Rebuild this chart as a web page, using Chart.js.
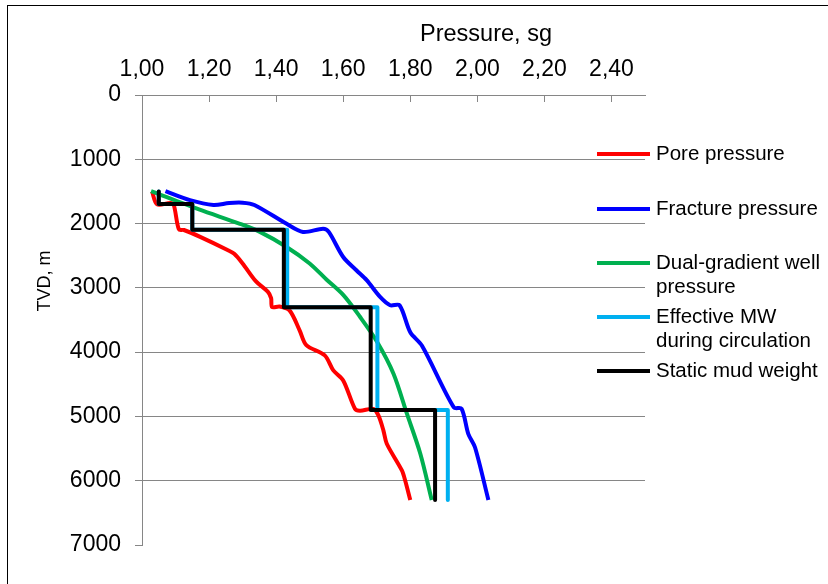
<!DOCTYPE html>
<html>
<head>
<meta charset="utf-8">
<title>Pressure vs TVD</title>
<script src="https://cdn.jsdelivr.net/npm/chart.js@4.4.1/dist/chart.umd.min.js"></script>
<style>
  html, body { margin: 0; padding: 0; background: #fff; overflow: hidden; }
  #wrap { position: relative; width: 828px; height: 584px; }
  #frame { position: absolute; left: 7px; top: 5px; width: 900px; height: 700px; border: 1px solid #000; box-sizing: border-box; }
  canvas { position: absolute; left: 0; top: 0; }
</style>
</head>
<body>
<div id="wrap">
  <div id="frame"></div>
  <canvas id="chart" width="828" height="584"></canvas>
</div>
<script>
// pressure (sg) / depth (m) pairs
const porePressure = [1.03, 1.045, 1.085, 1.095, 1.11, 1.125, 1.175, 1.255, 1.275, 1.30, 1.34, 1.375, 1.385, 1.388, 1.41, 1.44, 1.47, 1.49, 1.545, 1.57, 1.60, 1.635, 1.65, 1.69, 1.705, 1.72, 1.73, 1.775, 1.785, 1.80];
const poreDepth    = [1500, 1700, 1680, 1715, 2090, 2100, 2210, 2410, 2470, 2620, 2900, 3060, 3160, 3300, 3290, 3350, 3660, 3890, 4050, 4280, 4440, 4880, 4910, 4885, 4985, 5220, 5425, 5840, 6000, 6300];

const fracPressure = [1.07, 1.143, 1.213, 1.26, 1.30, 1.335, 1.43, 1.48, 1.54, 1.557, 1.60, 1.64, 1.67, 1.71, 1.74, 1.768, 1.80, 1.835, 1.93, 1.953, 1.973, 1.993, 2.033];
const fracDepth    = [1495, 1636, 1710, 1680, 1675, 1710, 2000, 2130, 2080, 2130, 2520, 2730, 2880, 3140, 3270, 3270, 3690, 3900, 4860, 4880, 5270, 5480, 6300];

const dualPressure = [1.027, 1.17, 1.29, 1.35, 1.43, 1.50, 1.55, 1.60, 1.65, 1.70, 1.75, 1.79, 1.83, 1.864];
const dualDepth    = [1495, 1780, 2000, 2125, 2360, 2620, 2870, 3110, 3450, 3830, 4335, 4958, 5581, 6300];

const stepDepth    = [1500, 1695, 1695, 2095, 2095, 3300, 3300, 4900, 4900, 6300];
const effPressure  = [1.05, 1.05, 1.15, 1.15, 1.433, 1.433, 1.702, 1.702, 1.912, 1.912];
const staticPressure = [1.05, 1.05, 1.15, 1.15, 1.423, 1.423, 1.682, 1.682, 1.874, 1.874];

const seriesLabels = [['Pore pressure'], ['Fracture pressure'], ['Dual-gradient well', 'pressure'], ['Effective MW', 'during circulation'], ['Static mud weight']];
const seriesColors = ['#ff0000', '#0000ff', '#00b050', '#00b0f0', '#000000'];

const xTicks = [1.0, 1.2, 1.4, 1.6, 1.8, 2.0, 2.2, 2.4];
const yTicks = [0, 1000, 2000, 3000, 4000, 5000, 6000, 7000];
const xMin = 1.0, xMax = 2.5;
const yMin = 0, yMax = 7000;

const FONT = '"Liberation Sans", Arial, sans-serif';
const AXIS = '#868686';

function pairs(px, dy) {
    return px.map((v, i) => ({ x: v, y: dy[i] }));
}

function line(idx, px, dy, tension) {
    return {
        label: seriesLabels[idx].join(' '),
        data: pairs(px, dy),
        showLine: true,
        borderColor: seriesColors[idx],
        backgroundColor: seriesColors[idx],
        borderWidth: 4,
        pointRadius: 0,
        tension: tension,
        borderJoinStyle: 'round',
        borderCapStyle: 'butt',
        order: 5 - idx
    };
}

// titles, inner ticks on the top axis, legend
const decor = {
    id: 'decor',
    afterDraw(chart) {
        const ctx = chart.ctx;
        const xs = chart.scales.x;
        const area = chart.chartArea;
        ctx.save();

        ctx.strokeStyle = AXIS;
        ctx.lineWidth = 1;
        xs.ticks.forEach(t => {
            if (t.value <= xMin + 1e-6) return;
            const px = Math.round(xs.getPixelForValue(t.value)) + 0.5;
            ctx.beginPath();
            ctx.moveTo(px, area.top);
            ctx.lineTo(px, area.top + 7);
            ctx.stroke();
        });

        ctx.fillStyle = '#000';
        ctx.font = '23.5px ' + FONT;
        ctx.textAlign = 'center';
        ctx.textBaseline = 'alphabetic';
        ctx.fillText('Pressure, sg', 486, 41);

        ctx.save();
        ctx.translate(45, 281);
        ctx.rotate(-Math.PI / 2);
        ctx.textBaseline = 'middle';
        ctx.font = '18px ' + FONT;
        ctx.fillText('TVD, m', 0, 0);
        ctx.restore();

        // legend
        const itemY = [154, 209, 263, 317, 371];
        ctx.font = '20.5px ' + FONT;
        ctx.textAlign = 'left';
        ctx.textBaseline = 'middle';
        seriesLabels.forEach((lines, i) => {
            ctx.strokeStyle = seriesColors[i];
            ctx.lineWidth = 4;
            ctx.beginPath();
            ctx.moveTo(597, itemY[i]);
            ctx.lineTo(650, itemY[i]);
            ctx.stroke();
            lines.forEach((txt, k) => ctx.fillText(txt, 656, itemY[i] + k * 24));
        });
        ctx.restore();
    }
};

new Chart(document.getElementById('chart').getContext('2d'), {
    type: 'scatter',
    data: {
        datasets: [
            line(0, porePressure, poreDepth, 0.3),
            line(1, fracPressure, fracDepth, 0.3),
            line(2, dualPressure, dualDepth, 0.3),
            line(3, effPressure, stepDepth, 0),
            line(4, staticPressure, stepDepth, 0)
        ]
    },
    options: {
        responsive: false,
        animation: false,
        layout: { padding: { left: 0, top: 0, right: 183, bottom: 39 } },
        plugins: { legend: { display: false }, tooltip: { enabled: false } },
        scales: {
            x: {
                type: 'linear',
                position: 'top',
                min: xMin,
                max: xMax,
                afterBuildTicks: s => { s.ticks = xTicks.map(v => ({ value: v })); },
                afterFit: s => { s.height = 95; },
                ticks: {
                    color: '#000',
                    padding: 12,
                    maxRotation: 0,
                    autoSkip: false,
                    font: { family: FONT, size: 23 },
                    callback: v => v.toFixed(2).replace('.', ',')
                },
                grid: { display: true, drawOnChartArea: false, drawTicks: false },
                border: { color: AXIS, width: 1 }
            },
            y: {
                type: 'linear',
                reverse: true,
                min: yMin,
                max: yMax,
                afterBuildTicks: s => { s.ticks = yTicks.map(v => ({ value: v })); },
                afterFit: s => { s.width = 142; },
                ticks: {
                    color: '#000',
                    padding: 14,
                    autoSkip: false,
                    font: { family: FONT, size: 23 },
                    callback: v => String(v)
                },
                grid: {
                    color: c => (c.tick && (c.tick.value === yMin || c.tick.value === yMax)) ? 'rgba(0,0,0,0)' : AXIS,
                    tickColor: AXIS,
                    tickLength: 7,
                    lineWidth: 1
                },
                border: { color: AXIS, width: 1 }
            }
        }
    },
    plugins: [decor]
});
</script>
</body>
</html>
